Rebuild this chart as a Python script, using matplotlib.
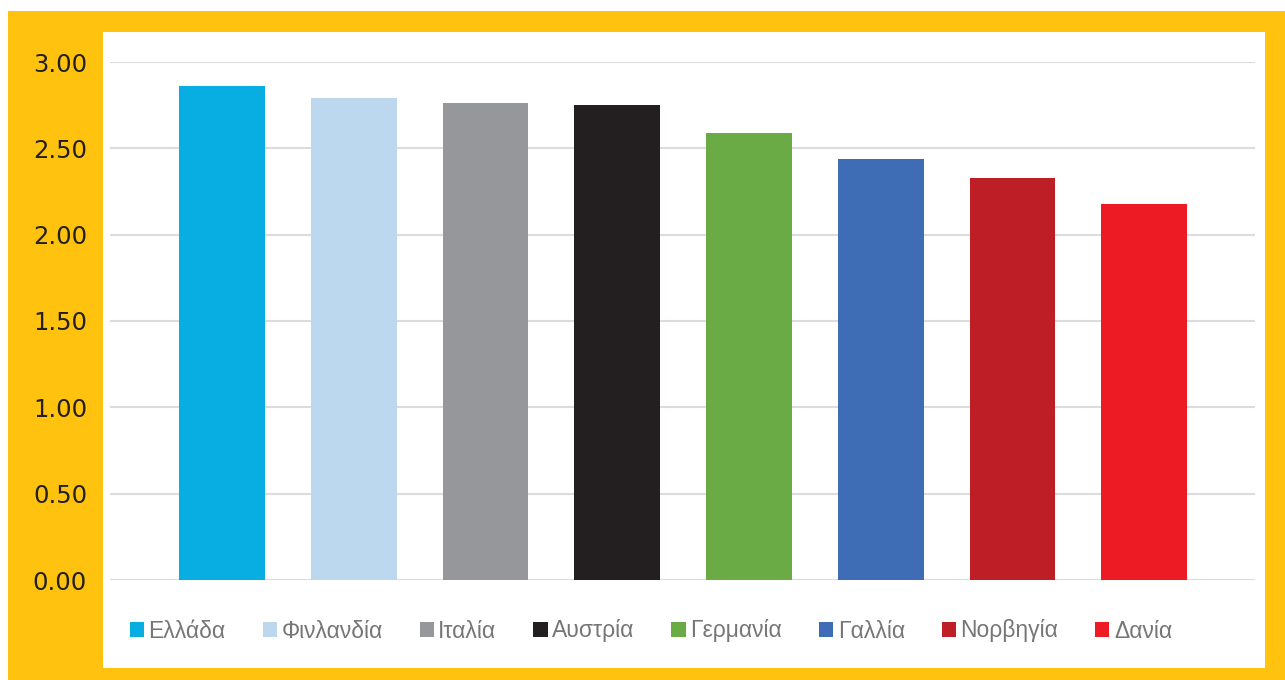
import matplotlib.pyplot as plt
from matplotlib.patches import Rectangle

# data
countries = ['Ελλάδα', 'Φινλανδία', 'Ιταλία', 'Αυστρία', 'Γερμανία', 'Γαλλία', 'Νορβηγία', 'Δανία']
values = [2.86, 2.79, 2.76, 2.75, 2.59, 2.44, 2.33, 2.18]
colors = ['#08ADE2', '#BCD8EE', '#96979B', '#231F20', '#6AAB45', '#3E6DB5', '#BE1E26', '#ED1C24']
yticks = [0.0, 0.5, 1.0, 1.5, 2.0, 2.5, 3.0]

W, H = 1285, 680
fig = plt.figure(figsize=(W / 100, H / 100), dpi=100)
fig.patch.set_facecolor('white')


def px_rect(x0, y0, x1, y1, color):
    # rectangle in pixel coords measured from top-left
    return Rectangle((x0 / W, 1 - y1 / H), (x1 - x0) / W, (y1 - y0) / H,
                     transform=fig.transFigure, facecolor=color, edgecolor='none', zorder=-2)


fig.patches.append(px_rect(8, 11, 1285, 680, '#FFC20E'))
fig.patches.append(px_rect(103, 32, 1265, 668, 'white'))

ax = fig.add_axes([110 / W, 1 - 580 / H, (1255 - 110) / W, (580 - 62) / H])
ax.set_facecolor('none')

x = range(len(countries))
bars = ax.bar(x, values, width=0.65, color=colors, zorder=3)
for b, name in zip(bars, countries):
    b.set_label(name)

ax.set_xlim(-0.85, 7.84)
ax.set_ylim(0, 3.0)
ax.set_yticks(yticks)
ax.set_yticklabels([f'{v:.2f}' for v in yticks], fontsize=17.5, color='#231F20',
                   fontfamily='DejaVu Sans')
ax.tick_params(axis='y', length=0, pad=16.5)
ax.set_xticks([])
ax.yaxis.grid(True, color='#DCDCDC', linewidth=1.5, zorder=0)
ax.set_axisbelow(True)
for s in ax.spines.values():
    s.set_visible(False)

leg = fig.legend(handles=bars, labels=countries, loc='center', ncol=8,
                 bbox_to_anchor=(651 / W, 1 - 631 / H), frameon=False,
                 handlelength=0.62, handleheight=0.62, handletextpad=0.2,
                 columnspacing=1.61,
                 prop={'family': 'Liberation Sans', 'size': 16.5})
for t in leg.get_texts():
    t.set_color('#767676')

fig.savefig('out.png', dpi=100)
